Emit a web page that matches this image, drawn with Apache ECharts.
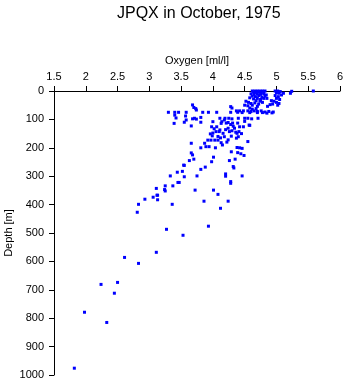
<!DOCTYPE html>
<html>
<head>
<meta charset="utf-8">
<script src="https://cdn.jsdelivr.net/npm/echarts@6/dist/echarts.min.js"></script>
<style>html,body{margin:0;padding:0;background:#fff}#c{width:345px;height:384px}</style>
</head>
<body>
<div id="c"></div>
<script>
const titleText = "JPQX in October, 1975";
const xName = "Oxygen [ml/l]";
const yName = "Depth [m]";
const xTicks = [1.5, 2, 2.5, 3, 3.5, 4, 4.5, 5, 5.5, 6];
const yTicks = [0, 100, 200, 300, 400, 500, 600, 700, 800, 900, 1000];

const oxygen = [
  4.62,4.66,4.70,4.74,4.78,4.82,4.64,4.68,4.72,4.76,4.80,4.98,5.02,5.06,5.00,5.04,5.11,5.22,5.24,5.58,4.60,4.65,4.70,4.75,4.80,4.84,
  4.62,4.67,4.72,4.77,4.82,4.58,4.64,4.70,4.75,4.80,4.85,4.98,5.03,5.08,5.00,5.05,4.68,4.74,
  4.52,4.56,4.60,4.66,4.72,4.78,4.92,4.96,5.00,5.04,4.94,4.50,4.55,4.62,4.70,4.28,4.30,4.86,5.02,4.90,
  3.68,3.70,3.74,3.73,4.37,4.42,4.48,4.55,4.60,4.65,4.70,4.76,4.82,4.88,4.95,4.62,4.58,4.68,
  3.30,3.40,3.46,3.58,3.84,3.93,4.06,4.28,4.39,4.46,4.58,4.70,4.78,4.85,4.93,3.40,3.42,3.39,3.57,3.58,3.55,
  3.71,3.68,3.74,3.81,3.81,3.66,4.11,4.14,4.18,4.19,4.25,4.30,4.40,4.50,4.55,4.61,4.71,4.00,4.13,4.21,4.31,4.39,4.50,4.58,4.57,4.24,4.28,
  4.06,3.98,4.11,4.24,4.34,4.42,4.48,4.30,4.36,4.45,4.05,4.00,3.96,4.10,4.16,4.26,4.38,4.41,4.20,4.32,4.02,
  4.18,4.29,4.37,4.40,4.55,3.92,3.97,4.03,4.08,4.13,4.15,4.24,3.66,3.87,3.89,3.94,3.81,4.04,4.12,4.08,3.99,4.22,
  4.29,4.38,4.42,4.46,4.39,4.44,4.49,3.66,3.68,3.70,3.63,3.98,4.01,4.26,4.35,3.54,3.55,
  3.81,3.88,4.32,4.33,3.44,3.52,3.55,3.33,3.75,4.20,4.20,4.28,4.28,4.46,3.45,3.47,3.37,3.25,3.11,
  3.24,3.25,3.12,3.13,3.06,3.13,2.93,2.83,2.81,3.36,3.72,4.01,4.08,3.86,4.24,4.12,3.93,3.27,3.53,
  3.11,2.61,2.83,2.50,2.24,2.45,1.98,2.33,1.82
];
const depth = [
  0,0,0,0,0,0,4,5,3,6,4,0,0,2,6,8,8,8,1,0,10,12,10,12,10,14,
  18,20,16,22,18,24,28,26,30,26,26,16,20,14,26,30,34,36,
  36,40,44,42,46,40,34,36,40,44,46,50,52,50,54,55,60,54,50,48,
  49,58,67,62,70,70,70,70,72,70,72,70,74,72,74,64,60,62,
  75,75,75,75,75,75,75,75,75,76,76,76,76,78,77,85,95,114,88,102,110,
  96,98,99,93,110,123,96,108,102,96,96,98,96,96,96,98,96,108,114,113,113,113,107,121,120,111,118,
  126,126,137,131,131,126,126,140,145,150,143,148,151,143,149,143,149,143,136,124,133,
  161,159,166,161,178,173,173,173,173,182,190,172,184,184,196,196,200,200,165,160,158,180,
  214,199,200,202,217,221,227,218,225,240,245,249,233,245,240,261,262,
  276,268,266,271,286,283,302,299,299,292,300,319,325,299,322,322,334,334,343,
  347,352,367,367,374,383,381,399,427,399,349,349,364,388,388,413,476,487,508,
  568,586,607,674,681,712,779,815,976
];

const pts = oxygen.map((o, i) => [o, depth[i]]);
const font = "Liberation Sans, Arial, Helvetica, sans-serif";
const chart = echarts.init(document.getElementById('c'), null, {renderer: 'canvas'});
chart.setOption({
  animation: false,
  backgroundColor: '#fff',
  title: {
    text: titleText, left: 112, top: 1,
    textStyle: {fontFamily: font, fontSize: 16, fontWeight: 'normal', color: '#000'}
  },
  grid: {left: 54, right: 5, top: 91, bottom: 9, containLabel: false, outerBoundsMode: 'none'},
  xAxis: {
    type: 'value', position: 'top', min: xTicks[0], max: xTicks[xTicks.length - 1], interval: 0.5,
    name: xName, nameLocation: 'middle', nameGap: 25, nameMoveOverlap: false,
    nameTextStyle: {fontFamily: font, fontSize: 11, color: '#000'},
    axisLine: {show: true, onZero: false, lineStyle: {color: '#000', width: 1}},
    axisTick: {show: true, length: 5, inside: false, lineStyle: {color: '#000'}},
    axisLabel: {fontFamily: font, fontSize: 11, color: '#000', margin: 9, formatter: v => String(v)},
    splitLine: {show: false}
  },
  yAxis: {
    type: 'value', inverse: true, min: yTicks[0], max: yTicks[yTicks.length - 1], interval: 100,
    name: yName, nameLocation: 'middle', nameGap: 40, nameRotate: 90, nameMoveOverlap: false,
    nameTextStyle: {fontFamily: font, fontSize: 11, color: '#000'},
    axisLine: {show: true, onZero: false, lineStyle: {color: '#000', width: 1}},
    axisTick: {show: true, length: 5, inside: false, lineStyle: {color: '#000'}},
    axisLabel: {fontFamily: font, fontSize: 11, color: '#000', margin: 10, formatter: v => String(v)},
    splitLine: {show: false}
  },
  series: [{
    type: 'scatter', data: pts, symbol: 'rect', symbolSize: 3,
    itemStyle: {color: '#0000ff', opacity: 1}
  }]
});
</script>
</body>
</html>
